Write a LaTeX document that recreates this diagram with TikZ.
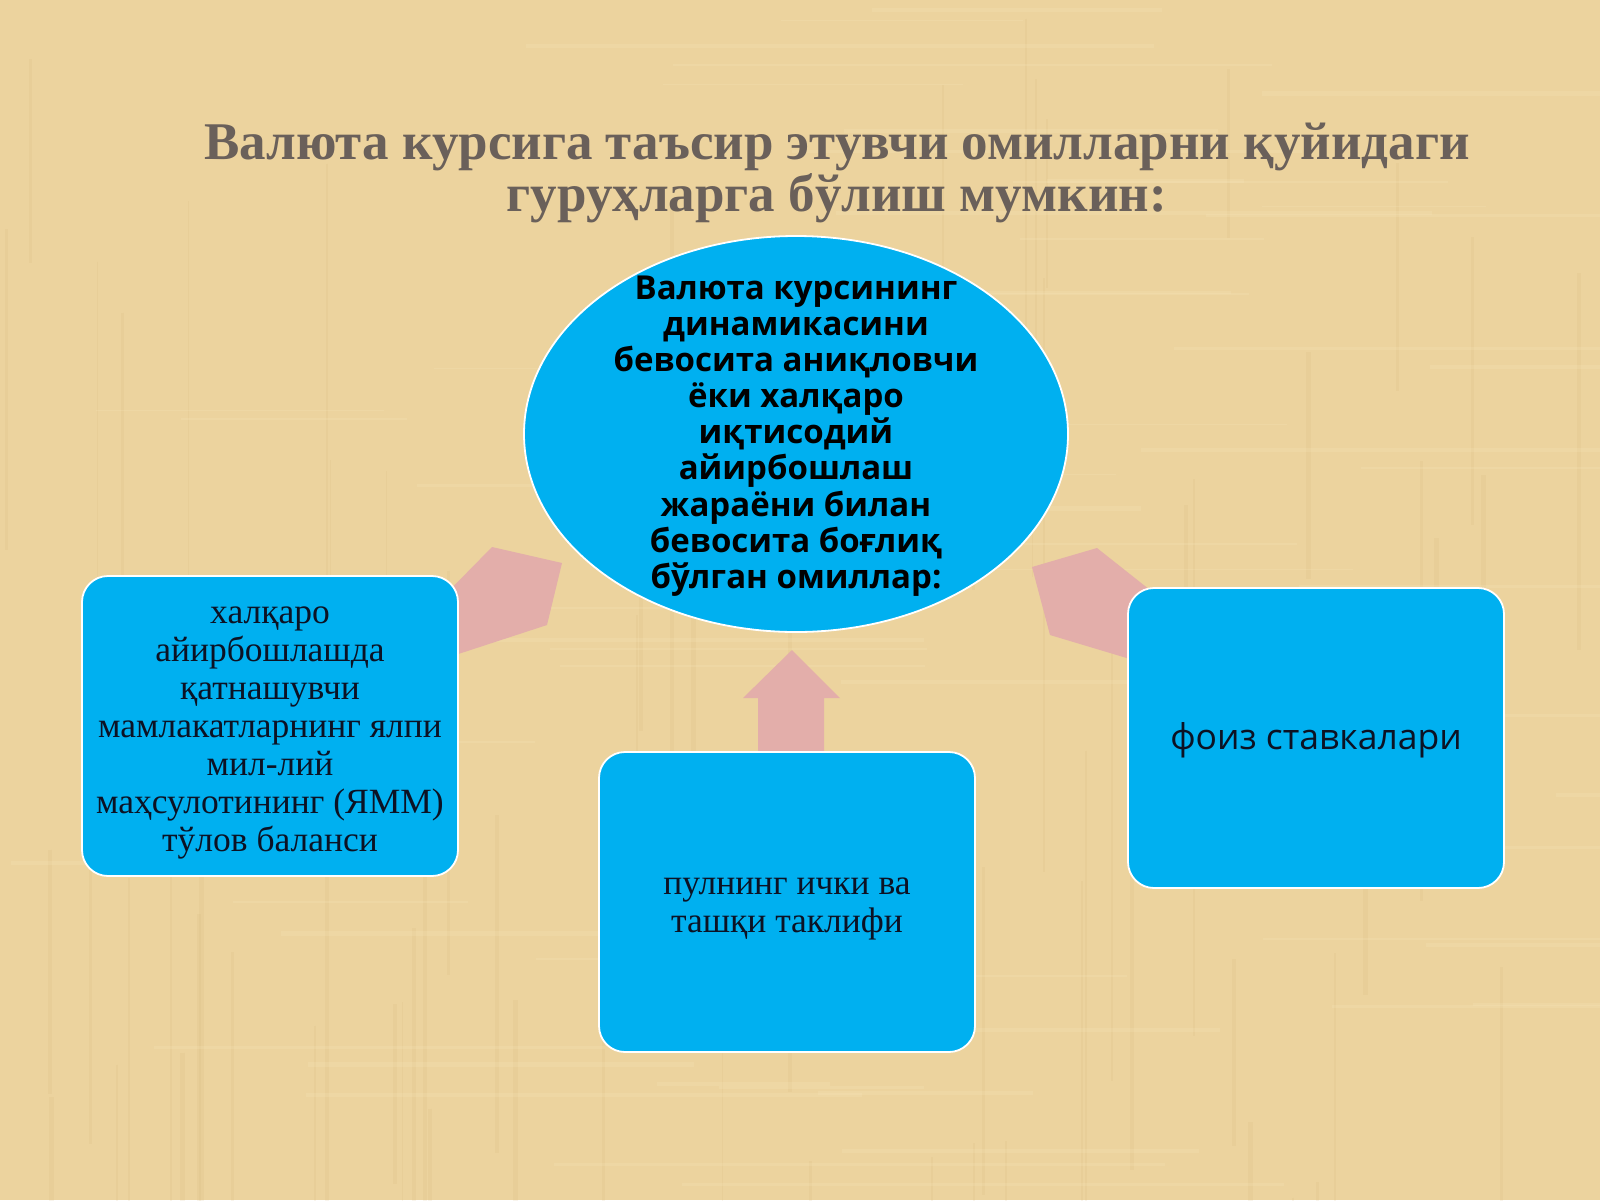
\documentclass[tikz,border=0pt]{standalone}
\usepackage{fontspec}
\setmainfont{Liberation Serif}
\newfontfamily\ellfont{Open Sans}
\usetikzlibrary{shapes.geometric}
\definecolor{bgtan}{RGB}{236,211,158}
\definecolor{fibredark}{RGB}{205,175,115}
\definecolor{fibrelight}{RGB}{248,232,190}
\definecolor{skyblue}{RGB}{0,176,240}
\definecolor{titlegrey}{RGB}{106,96,90}
\definecolor{arrowpink}{RGB}{227,174,170}
\definecolor{txtdark}{RGB}{12,18,36}
\begin{document}
\begin{tikzpicture}[x=1pt,y=-1pt,
  bluebox/.style={draw=white,line width=1.8pt,fill=skyblue,rounded corners=26pt,
    minimum width=376pt,minimum height=300pt,inner sep=0pt},
  boxtext/.style={align=center,text=txtdark,inner sep=0pt},
  ell/.style={ellipse,draw=white,line width=1.8pt,fill=skyblue,minimum width=544pt,
    minimum height=396pt,inner sep=0pt},
  pinkarrow/.style={fill=arrowpink}]
\useasboundingbox (0,0) rectangle (1600,1200);
\fill[bgtan] (0,0) rectangle (1600,1200);
% papyrus fibres
\pgfmathsetseed{7}
\foreach \i in {1,...,70}{
  \pgfmathsetmacro{\xx}{rnd*1600}
  \pgfmathsetmacro{\yy}{rnd*1200}
  \pgfmathsetmacro{\ll}{150+rnd*500}
  \pgfmathsetmacro{\ww}{1+rnd*4}
  \draw[fibredark,opacity=0.12,line width=\ww pt] (\xx,\yy) -- ++(0,\ll);
}
\foreach \i in {1,...,60}{
  \pgfmathsetmacro{\xx}{rnd*1600}
  \pgfmathsetmacro{\yy}{rnd*1200}
  \pgfmathsetmacro{\ll}{150+rnd*500}
  \pgfmathsetmacro{\ww}{1+rnd*4}
  \draw[fibrelight,opacity=0.2,line width=\ww pt] (\xx,\yy) -- ++(\ll,0);
}

\node[text=titlegrey,align=center,font=\fontsize{53}{52}\selectfont\bfseries] (title) at (837,173)
  {Валюта курсига таъсир этувчи омилларни қуйидаги\\гуруҳларга бўлиш мумкин:};

% block arrows (behind shapes)
\fill[pinkarrow] (440,600) -- (492,547) -- (562,563) -- (547,625) -- (440,660) -- cycle;
\fill[pinkarrow] (1032,567) -- (1097,548) -- (1150,590) -- (1150,665) -- (1050,635) -- cycle;
\fill[pinkarrow] (792,650) -- (840,698) -- (824,698) -- (824,760) -- (758,760) -- (758,698) -- (743,698) -- cycle;

\node[ell] (center) at (796,434) {};
\node[boxtext,text=black,font=\ellfont\fontsize{33}{36.1}\selectfont\bfseries] (centertext) at ([yshift=-2pt]center.center)
  {Валюта курсининг\\динамикасини\\бевосита аниқловчи\\ёки халқаро\\иқтисодий\\айирбошлаш\\жараёни билан\\бевосита боғлиқ\\бўлган омиллар:};

\node[bluebox] (left) at (270,726) {};
\node[boxtext,font=\fontsize{35.5}{38.1}\selectfont] (lefttext) at ([yshift=-7pt]left.center)
  {халқаро\\айирбошлашда\\қатнашувчи\\мамлакатларнинг ялпи\\мил-лий\\маҳсулотининг (ЯММ)\\тўлов баланси};

\node[bluebox] (bottom) at (787,902) {};
\node[boxtext,font=\fontsize{35.5}{38.1}\selectfont] (bottomtext) at ([yshift=-6.5pt]bottom.center)
  {пулнинг ички ва\\ташқи таклифи};

\node[bluebox] (right) at (1316,738) {};
\node[boxtext,font=\ellfont\fontsize{35.5}{38}\selectfont] (righttext) at ([yshift=-2pt]right.center)
  {фоиз ставкалари};
\end{tikzpicture}
\end{document}
